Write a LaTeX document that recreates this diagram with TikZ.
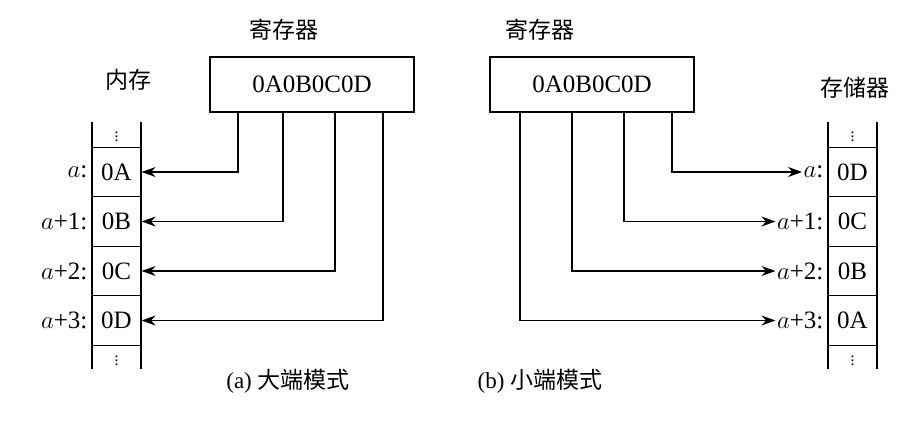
\documentclass[tikz,border=0pt]{standalone}
\usepackage{fontspec}
\setmainfont{Liberation Serif}
\newfontfamily\cjk{Noto Sans CJK SC}
\usetikzlibrary{arrows.meta}
\tikzset{
  cell/.style={draw,minimum width=49pt,minimum height=49.5pt,inner sep=0pt,font=\fontsize{25}{25}\selectfont},
  regbox/.style={draw,minimum width=204pt,minimum height=55pt,font=\fontsize{25}{25}\selectfont},
  addr/.style={anchor=east,inner sep=1pt,font=\fontsize{25}{25}\selectfont},
  dots/.style={inner sep=0pt,font=\fontsize{16}{16}\selectfont},
  title/.style={font=\cjk\fontsize{23}{23}\selectfont},
  wire/.style={-{Stealth[length=14pt,width=10pt]}}
}
\begin{document}
\begin{tikzpicture}[x=1pt,y=-1pt,line width=1.2pt]
    \useasboundingbox (0,0) rectangle (905,431);
    % Big endian
    \node[title] (regA) at (284,30) {寄存器};
    \node[regbox] (boxA) at (312,84.5) {0A0B0C0D};
    \node[title] (memA) at (128,80) {内存};
    \draw (92,122) -- (92,369) (141,122) -- (141,369);
    \node[dots] at (116.5,134) {$\vdots$};
    \node[dots] at (116.5,358) {$\vdots$};
    \node[cell] (a0) at (116.5,172) {0A};
    \node[cell] (a1) at (116.5,221.5) {0B};
    \node[cell] (a2) at (116.5,271) {0C};
    \node[cell] (a3) at (116.5,320.5) {0D};
    \node[addr] at (89,172) {$a$:};
    \node[addr] at (89,221.5) {$a$+1:};
    \node[addr] at (89,271) {$a$+2:};
    \node[addr] at (89,320.5) {$a$+3:};
    \draw[wire] (boxA.south -| 238,0) |- (a0.east);
    \draw[wire] (boxA.south -| 283,0) |- (a1.east);
    \draw[wire] (boxA.south -| 335,0) |- (a2.east);
    \draw[wire] (boxA.south -| 383,0) |- (a3.east);
    \node[title] (capA) at (288,381) {\rmfamily(a) \cjk 大端模式};
    % Little endian
    \node[title] (regB) at (540,30) {寄存器};
    \node[regbox] (boxB) at (592,84.5) {0A0B0C0D};
    \node[title] (memB) at (855,88) {存储器};
    \draw (828,122) -- (828,369) (877,122) -- (877,369);
    \node[dots] at (852.5,134) {$\vdots$};
    \node[dots] at (852.5,358) {$\vdots$};
    \node[cell] (b0) at (852.5,172) {0D};
    \node[cell] (b1) at (852.5,221.5) {0C};
    \node[cell] (b2) at (852.5,271) {0B};
    \node[cell] (b3) at (852.5,320.5) {0A};
    \node[addr] (l0) at (825,172) {$a$:};
    \node[addr] (l1) at (825,221.5) {$a$+1:};
    \node[addr] (l2) at (825,271) {$a$+2:};
    \node[addr] (l3) at (825,320.5) {$a$+3:};
    \draw[wire] (boxB.south -| 672,0) |- (l0.west);
    \draw[wire] (boxB.south -| 624,0) |- (l1.west);
    \draw[wire] (boxB.south -| 572,0) |- (l2.west);
    \draw[wire] (boxB.south -| 520,0) |- (l3.west);
    \node[title] (capB) at (540,381) {\rmfamily(b) \cjk 小端模式};
\end{tikzpicture}
\end{document}
